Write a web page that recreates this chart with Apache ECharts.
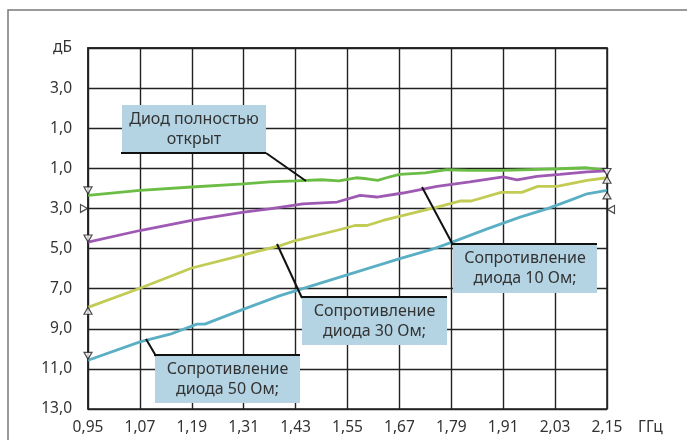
<!DOCTYPE html>
<html><head><meta charset="utf-8">
<script src="https://cdn.jsdelivr.net/npm/echarts@6/dist/echarts.min.js"></script>
<style>html,body{margin:0;padding:0;background:#fff}#c{width:687px;height:440px}</style>
</head><body><div id="c"></div>
<script>
// Tick labels
const xTickLabels = ['0,95','1,07','1,19','1,31','1,43','1,55','1,67','1,79','1,91','2,03','2,15'];
const yTickLabels = ['дБ','3,0','1,0','1,0','3,0','5,0','7,0','9,0','11,0','13,0'];
const freqStart = 0.95, freqStep = 0.12;   // GHz
const dbTop = -5;                            // value at top of the axis

// Диод полностью открыт
const openFreq = [0.95, 1.07, 1.19, 1.31, 1.37, 1.43, 1.49, 1.53, 1.57, 1.595, 1.62, 1.64, 1.67, 1.73, 1.78, 1.83, 1.91, 2.04, 2.10, 2.15];
const openDb   = [2.35, 2.10, 1.93, 1.77, 1.68, 1.63, 1.57, 1.63, 1.47, 1.52, 1.60, 1.47, 1.30, 1.23, 1.07, 1.10, 1.10, 1.02, 0.97, 1.10];
// Сопротивление диода 10 Ом
const r10Freq = [0.95, 1.07, 1.19, 1.31, 1.37, 1.447, 1.526, 1.579, 1.618, 1.678, 1.757, 1.833, 1.91, 1.942, 1.988, 2.041, 2.104, 2.15];
const r10Db   = [4.68, 4.10, 3.60, 3.18, 3.02, 2.77, 2.68, 2.35, 2.43, 2.23, 1.90, 1.68, 1.43, 1.57, 1.40, 1.30, 1.18, 1.13];
// Сопротивление диода 30 Ом
const r30Freq = [0.95, 1.07, 1.19, 1.31, 1.394, 1.43, 1.533, 1.567, 1.595, 1.632, 1.757, 1.81, 1.836, 1.905, 1.953, 1.99, 2.034, 2.104, 2.15];
const r30Db   = [7.93, 6.98, 5.97, 5.32, 4.85, 4.60, 4.05, 3.85, 3.85, 3.60, 2.93, 2.63, 2.63, 2.20, 2.20, 1.90, 1.90, 1.60, 1.47];
// Сопротивление диода 50 Ом
const r50Freq = [0.95, 1.07, 1.14, 1.202, 1.22, 1.31, 1.394, 1.551, 1.671, 1.741, 1.792, 1.873, 1.949, 2.011, 2.064, 2.104, 2.15];
const r50Db   = [10.57, 9.65, 9.27, 8.77, 8.77, 8.02, 7.35, 6.30, 5.50, 5.07, 4.68, 4.02, 3.43, 3.02, 2.60, 2.27, 2.10];

// Triangle markers at curve ends [freq, dB]
const markDown  = [[0.95, 2.10], [0.95, 4.50], [0.95, 10.35], [2.15, 1.18]];
const markUp    = [[0.95, 8.10], [2.15, 1.57], [2.15, 2.35]];
const markRight = [[0.95, 3.00]];
const markLeft  = [[2.15, 3.05]];

const toX = f => (f - freqStart) / freqStep;
const toY = d => d - dbTop;
const pts = (fs, ds) => fs.map((f, i) => [toX(f), toY(ds[i])]);
const pp = arr => arr.map(p => [toX(p[0]), toY(p[1])]);

const FONT = 'Noto Sans';
const TXT = '#333';
const GRID = '#222';

function lineSeries(name, data, color) {
  return { name, type: 'line', data, showSymbol: false, symbol: 'none', clip: false,
    lineStyle: { color, width: 2.8 }, z: 3, silent: true, animation: false };
}
function markSeries(data, rot, offset) {
  return { type: 'scatter', data, symbol: 'triangle', symbolSize: [8, 7], symbolRotate: rot,
    symbolOffset: offset || [0, 0], clip: false, z: 5, silent: true, animation: false,
    itemStyle: { color: '#fff', borderColor: '#222', borderWidth: 1.2 } };
}

const chart = echarts.init(document.getElementById('c'), null, { renderer: 'canvas' });

function box(x, y, w, h, lines, edgeTop) {
  return [
    { type: 'rect', shape: { x, y, width: w, height: h }, style: { fill: '#b4d4e4' }, z: 10 },
    { type: 'line', shape: { x1: x - 1, y1: edgeTop ? y : y + h, x2: x + w, y2: edgeTop ? y : y + h },
      style: { stroke: '#111', lineWidth: 2.2 }, z: 11 },
    { type: 'text', x: x + w / 2, y: y + h / 2, z: 12,
      style: { text: lines.join('\n'), font: '16px "' + FONT + '"', fill: TXT, align: 'center',
        verticalAlign: 'middle', lineHeight: 20 } }
  ];
}
function leader(x1, y1, x2, y2) {
  return { type: 'line', shape: { x1, y1, x2, y2 }, style: { stroke: '#111', lineWidth: 2 }, z: 11 };
}

chart.setOption({
  animation: false,
  backgroundColor: '#fff',
  grid: { left: 88, right: 80, top: 48, bottom: 31, show: true, borderColor: GRID, borderWidth: 1.5, backgroundColor: 'transparent' },
  xAxis: {
    type: 'value', min: 0, max: xTickLabels.length - 1, interval: 1,
    axisLine: { show: true, lineStyle: { color: GRID, width: 1.5 } },
    axisTick: { show: false },
    splitLine: { show: true, lineStyle: { color: GRID, width: 1.4 } },
    axisLabel: { formatter: v => xTickLabels[Math.round(v)], margin: 11, fontSize: 15.5, fontFamily: FONT, color: TXT }
  },
  yAxis: {
    type: 'value', inverse: true, min: 0, max: (yTickLabels.length - 1) * 2, interval: 2,
    axisLine: { show: true, lineStyle: { color: GRID, width: 1.5 } },
    axisTick: { show: false },
    splitLine: { show: true, lineStyle: { color: GRID, width: 1.4 } },
    axisLabel: { formatter: v => yTickLabels[Math.round(v / 2)], margin: 16, fontSize: 15.5, fontFamily: FONT, color: TXT,
      padding: [0, 0, 8, 0] }
  },
  series: [
    lineSeries('Диод полностью открыт', pts(openFreq, openDb), '#6cbd45'),
    lineSeries('Сопротивление диода 10 Ом', pts(r10Freq, r10Db), '#9e5ab3'),
    lineSeries('Сопротивление диода 30 Ом', pts(r30Freq, r30Db), '#c2cb54'),
    lineSeries('Сопротивление диода 50 Ом', pts(r50Freq, r50Db), '#5bafc4'),
    markSeries(pp(markDown), 180),
    markSeries(pp(markUp), 0),
    markSeries(pp(markRight), -90, [-4, 0]),
    markSeries(pp(markLeft), 90, [4, 0])
  ],
  graphic: [
    { type: 'rect', shape: { x: 8, y: 10, width: 700, height: 460 }, style: { fill: 'none', stroke: '#7a7a7a', lineWidth: 1.5 }, z: 1, silent: true },
    { type: 'text', x: 638, y: 428, style: { text: 'ГГц', font: '15.5px "' + FONT + '"', fill: TXT, align: 'left', verticalAlign: 'middle' } },
    ...box(122, 105, 144, 48, ['Диод полностью', 'открыт'], false),
    leader(266, 153, 306, 181),
    ...box(453, 244, 144, 49, ['Сопротивление', 'диода 10 Ом;'], true),
    leader(422, 187, 453, 245),
    ...box(302, 297, 145, 48, ['Сопротивление', 'диода 30 Ом;'], true),
    leader(277, 244, 302, 298),
    ...box(155, 355, 145, 48, ['Сопротивление', 'диода 50 Ом;'], true),
    leader(146, 339, 156, 356)
  ]
});
</script></body></html>
